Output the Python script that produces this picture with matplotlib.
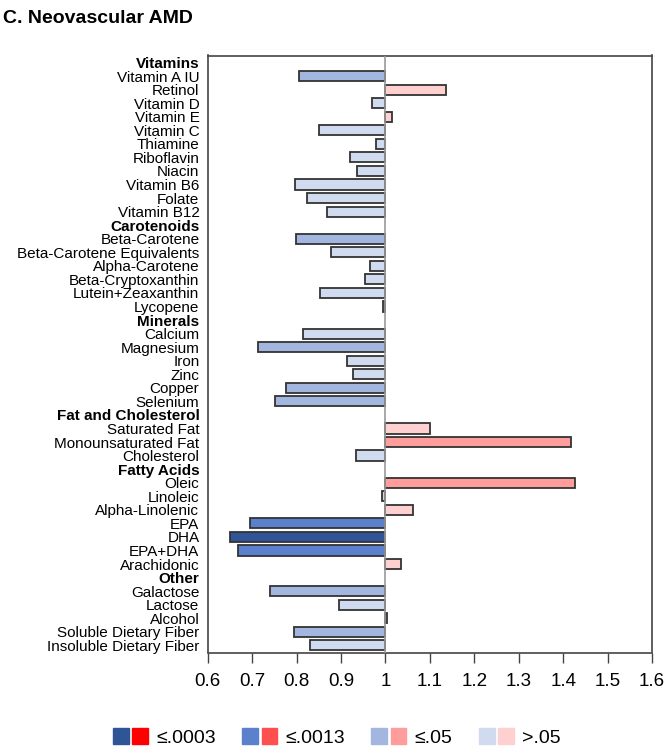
import matplotlib
matplotlib.use("Agg")
import matplotlib.pyplot as plt
from matplotlib.patches import Patch
from matplotlib.legend_handler import HandlerTuple

plt.rcParams["font.family"] = ["Liberation Sans", "DejaVu Sans"]

# rows top to bottom; headers have no value
labels = ["Vitamins", "Vitamin A IU", "Retinol", "Vitamin D", "Vitamin E", "Vitamin C",
          "Thiamine", "Riboflavin", "Niacin", "Vitamin B6", "Folate", "Vitamin B12",
          "Carotenoids", "Beta-Carotene", "Beta-Carotene Equivalents", "Alpha-Carotene",
          "Beta-Cryptoxanthin", "Lutein+Zeaxanthin", "Lycopene",
          "Minerals", "Calcium", "Magnesium", "Iron", "Zinc", "Copper", "Selenium",
          "Fat and Cholesterol", "Saturated Fat", "Monounsaturated Fat", "Cholesterol",
          "Fatty Acids", "Oleic", "Linoleic", "Alpha-Linolenic", "EPA", "DHA", "EPA+DHA",
          "Arachidonic",
          "Other", "Galactose", "Lactose", "Alcohol", "Soluble Dietary Fiber",
          "Insoluble Dietary Fiber"]
headers = ["Vitamins", "Carotenoids", "Minerals", "Fat and Cholesterol", "Fatty Acids", "Other"]

values = [None, 0.805, 1.137, 0.970, 1.015, 0.851,
          0.978, 0.920, 0.935, 0.797, 0.824, 0.869,
          None, 0.799, 0.877, 0.966,
          0.953, 0.852, 0.994,
          None, 0.815, 0.712, 0.914, 0.926, 0.775, 0.751,
          None, 1.100, 1.417, 0.934,
          None, 1.426, 0.993, 1.061, 0.696, 0.649, 0.669,
          1.036,
          None, 0.739, 0.896, 1.004, 0.794,
          0.829]

# p-value class: 0 = <=.0003, 1 = <=.0013, 2 = <=.05, 3 = >.05
pclass = [None, 2, 3, 3, 3, 3,
          3, 3, 3, 3, 3, 3,
          None, 2, 3, 3,
          3, 3, 3,
          None, 3, 2, 3, 3, 2, 2,
          None, 3, 2, 3,
          None, 2, 3, 3, 1, 0, 1,
          3,
          None, 2, 3, 3, 2,
          3]

legend_labels = ["\u2264.0003", "\u2264.0013", "\u2264.05", ">.05"]
blues = ["#2F5597", "#5B80CC", "#A2B6E0", "#D0DBF0"]
reds = ["#FF0000", "#FF5050", "#FF9C9C", "#FFD0D0"]

fig = plt.figure(figsize=(6.66, 7.5), dpi=100)
ax = fig.add_axes([0.312, 0.13, 0.667, 0.796])

ypos = list(range(len(labels)))
for y, v, c in zip(ypos, values, pclass):
    if v is None:
        continue
    col = reds[c] if v > 1 else blues[c]
    ax.barh(y, v - 1, left=1, height=0.75, color=col, edgecolor="#333333", linewidth=1.3, zorder=2)

ax.axvline(1, color="#999999", linewidth=1.2, zorder=3)

ax.set_ylim(len(labels) - 0.47, -0.52)
ax.set_xlim(0.6, 1.6)
ax.set_xticks([0.6, 0.7, 0.8, 0.9, 1, 1.1, 1.2, 1.3, 1.4, 1.5, 1.6])
ax.set_xticklabels(["0.6", "0.7", "0.8", "0.9", "1", "1.1", "1.2", "1.3", "1.4", "1.5", "1.6"])
ax.tick_params(axis="x", labelsize=13.5, length=7, width=1, color="#444444", pad=8)
ax.set_yticks(ypos)
ax.set_yticklabels(labels, fontsize=11)
ax.tick_params(axis="y", length=0, pad=6)
for t in ax.get_yticklabels():
    if t.get_text() in headers:
        t.set_fontweight("bold")
for s in ax.spines.values():
    s.set_color("#444444")
    s.set_linewidth(1.2)

fig.text(0.004, 0.975, "C. Neovascular AMD", fontsize=14, fontweight="bold", va="center", ha="left")

handles = [(Patch(color=b), Patch(color=r)) for b, r in zip(blues, reds)]
fig.legend(handles, legend_labels, handler_map={tuple: HandlerTuple(ndivide=None, pad=0.2)},
           loc="center", bbox_to_anchor=(0.506, 0.0165), ncol=4, frameon=False, fontsize=14,
           handlelength=1.8, handleheight=0.85, handletextpad=0.43, columnspacing=1.35,
           borderaxespad=0, borderpad=0)

fig.savefig("out.png", dpi=100)
